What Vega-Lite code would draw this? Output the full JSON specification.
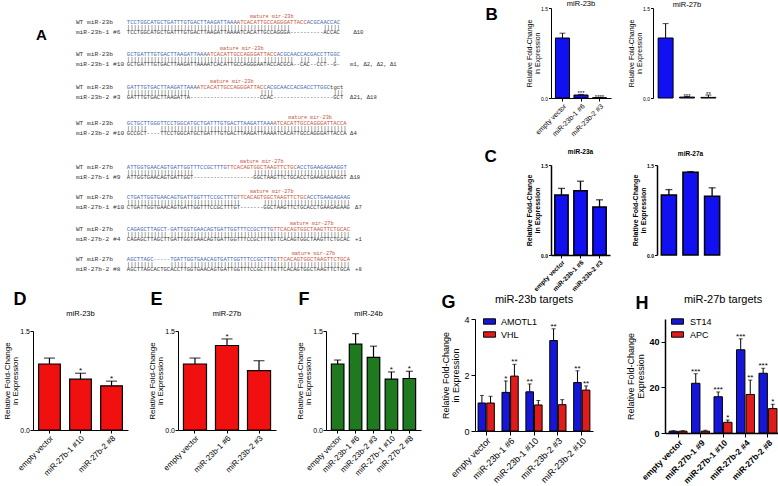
{
"$schema": "https://vega.github.io/schema/vega-lite/v6.json",
"padding": {"left": 3, "top": 0, "right": 2, "bottom": 0},
"background": "white",
"config": {
  "font": "Liberation Sans",
  "view": {"stroke": null},
  "axis": {"grid": false, "domainColor": "black", "tickColor": "black", "labelColor": "black", "titleColor": "black", "titleFontWeight": "normal", "domainWidth": 1, "tickWidth": 1},
  "title": {"color": "black", "fontWeight": "normal", "baseline": "alphabetic", "frame": "group", "anchor": "middle"},
  "legend": {"labelColor": "black"}
},
"datasets": {
  "seq": [
    {"r": 6.06, "c": -27.3, "t": "A", "k": "panel"},
    {"r": 2.52, "c": 43.5, "t": "mature mir-23b", "k": "mlab"},
    {"r": 3.58, "c": -15.3, "t": "WT miR-23b", "k": "label"},
    {"r": 3.58, "c": 0, "t": "TCCTGGCATGCTGATTTGTGACTTAAGATTAAA", "k": "flank"},
    {"r": 3.58, "c": 33, "t": "ATCACATTGCCAGGGATTACC", "k": "mature"},
    {"r": 3.58, "c": 54, "t": "ACGCAACCAC", "k": "flank"},
    {"r": 4.48, "c": 0, "t": "|||||||||||||||||||||||||||||||||||||||||||||||||", "k": "match"},
    {"r": 4.48, "c": 59, "t": "|||||", "k": "match"},
    {"r": 5.51, "c": -15.3, "t": "miR-23b-1 #6", "k": "label"},
    {"r": 5.51, "c": 0, "t": "TCCTGGCATGCTGATTTGTGACTTAAGATTAAAATCACATTGCCAGGGA----------ACCAC", "k": "mut"},
    {"r": 5.51, "c": 68, "t": "Δ10", "k": "note"},

    {"r": 8.49, "c": 34.5, "t": "mature mir-23b", "k": "mlab"},
    {"r": 9.55, "c": -15.3, "t": "WT miR-23b", "k": "label"},
    {"r": 9.55, "c": 0, "t": "GCTGATTTGTGACTTAAGATTAAA", "k": "flank"},
    {"r": 9.55, "c": 24, "t": "ATCACATTGCCAGGGATTACC", "k": "mature"},
    {"r": 9.55, "c": 45, "t": "ACGCAACCACGACCTTGGC", "k": "flank"},
    {"r": 10.45, "c": 0, "t": "||||||||||||||||||||||||||||||||||||||||", "k": "match"},
    {"r": 10.45, "c": 41, "t": "|||||||||", "k": "match"},
    {"r": 10.45, "c": 52, "t": "|||", "k": "match"},
    {"r": 10.45, "c": 57, "t": "|||", "k": "match"},
    {"r": 10.45, "c": 62, "t": "|", "k": "match"},
    {"r": 11.48, "c": -15.3, "t": "miR-23b-1 #10", "k": "label"},
    {"r": 11.48, "c": 0, "t": "GCTGATTTGTGACTTAAGATTAAAATCACATTGCCAGGGAATACCACGCA--CAC--CCT--G-", "k": "mut"},
    {"r": 11.48, "c": 67, "t": "m1, Δ2, Δ2, Δ1", "k": "note"},

    {"r": 14.65, "c": 31.5, "t": "mature mir-23b", "k": "mlab"},
    {"r": 15.71, "c": -15.3, "t": "WT miR-23b", "k": "label"},
    {"r": 15.71, "c": 0, "t": "GATTTGTGACTTAAGATTAAA", "k": "flank"},
    {"r": 15.71, "c": 21, "t": "ATCACATTGCCAGGGATTACC", "k": "mature"},
    {"r": 15.71, "c": 42, "t": "ACGCAACCACGACCTTGGC", "k": "flank"},
    {"r": 15.71, "c": 61, "t": "tgct", "k": "mut"},
    {"r": 16.61, "c": 0, "t": "|||||||||||||||||||", "k": "match"},
    {"r": 16.61, "c": 40, "t": "||||", "k": "match"},
    {"r": 16.61, "c": 62, "t": "|||", "k": "match"},
    {"r": 17.64, "c": -15.3, "t": "miR-23b-2 #3", "k": "label"},
    {"r": 17.64, "c": 0, "t": "GATTTGTGACTTAAGATTA---------------------CCAC------------------GCT", "k": "mut"},
    {"r": 17.64, "c": 67, "t": "Δ21, Δ18", "k": "note"},

    {"r": 21.36, "c": 55, "t": "mature mir-23b", "k": "mlab"},
    {"r": 22.42, "c": -15.3, "t": "WT miR-23b", "k": "label"},
    {"r": 22.42, "c": 0, "t": "GCTGCTTGGGTTCCTGGCATGCTGATTTGTGACTTAAGATTAAA", "k": "flank"},
    {"r": 22.42, "c": 44, "t": "ATCACATTGCCAGGGATTACCA", "k": "mature"},
    {"r": 23.32, "c": 0, "t": "||||||", "k": "match"},
    {"r": 23.32, "c": 10, "t": "||||||||||||||||||||||||||||||||||||||||||||||||||||||||", "k": "match"},
    {"r": 24.35, "c": -15.3, "t": "miR-23b-2 #10", "k": "label"},
    {"r": 24.35, "c": 0, "t": "GCCGCT----TTCCTGGCATGCTGATTTGTGACTTAAGATTAAAATCACATTGCCAGGGATTACCA", "k": "mut"},
    {"r": 24.35, "c": 67, "t": "Δ4", "k": "note"},

    {"r": 29.57, "c": 40.5, "t": "mature mir-27b", "k": "mlab"},
    {"r": 30.63, "c": -15.3, "t": "WT miR-27b", "k": "label"},
    {"r": 30.63, "c": 0, "t": "ATTGGTGAACAGTGATTGGTTTCCGCTTTG", "k": "flank"},
    {"r": 30.63, "c": 30, "t": "TTCACAGTGGCTAAGTTCTGC", "k": "mature"},
    {"r": 30.63, "c": 51, "t": "ACCTGAAGAGAAGGT", "k": "flank"},
    {"r": 31.53, "c": 0, "t": "||||||||||||||||||||", "k": "match"},
    {"r": 31.53, "c": 38, "t": "||||||||||||||||||||||||||||", "k": "match"},
    {"r": 32.56, "c": -15.3, "t": "miR-27b-1 #9", "k": "label"},
    {"r": 32.56, "c": 0, "t": "ATTGGTGAACAGTGATTGGT------------------GGCTAAGTTCTGCACCTGAAGAGAAGGT", "k": "mut"},
    {"r": 32.56, "c": 67, "t": "Δ18", "k": "note"},

    {"r": 35.17, "c": 43.5, "t": "mature mir-27b", "k": "mlab"},
    {"r": 36.23, "c": -15.3, "t": "WT miR-27b", "k": "label"},
    {"r": 36.23, "c": 0, "t": "CTGATTGGTGAACAGTGATTGGTTTCCGCTTTG", "k": "flank"},
    {"r": 36.23, "c": 33, "t": "TTCACAGTGGCTAAGTTCTGC", "k": "mature"},
    {"r": 36.23, "c": 54, "t": "ACCTGAAGAGAAG", "k": "flank"},
    {"r": 37.13, "c": 0, "t": "||||||||||||||||||||||||||||||||||", "k": "match"},
    {"r": 37.13, "c": 41, "t": "||||||||||||||||||||||||||", "k": "match"},
    {"r": 38.16, "c": -15.3, "t": "miR-27b-1 #10", "k": "label"},
    {"r": 38.16, "c": 0, "t": "CTGATTGGTGAACAGTGATTGGTTTCCGCTTTGT-------GGCTAAGTTCTGCACCTGAAGAGAAG", "k": "mut"},
    {"r": 38.16, "c": 68.5, "t": "Δ7", "k": "note"},

    {"r": 41.14, "c": 55.5, "t": "mature mir-27b", "k": "mlab"},
    {"r": 42.2, "c": -15.3, "t": "WT miR-27b", "k": "label"},
    {"r": 42.2, "c": 0, "t": "CAGAGCTTAGCT-GATTGGTGAACAGTGATTGGTTTCCGCTTTG", "k": "flank"},
    {"r": 42.2, "c": 44, "t": "TTCACAGTGGCTAAGTTCTGCAC", "k": "mature"},
    {"r": 43.1, "c": 0, "t": "||||||||||||", "k": "match"},
    {"r": 43.1, "c": 13, "t": "||||||||||||||||||||||||||||||||||||||||||||||||||||||", "k": "match"},
    {"r": 44.13, "c": -15.3, "t": "miR-27b-2 #4", "k": "label"},
    {"r": 44.13, "c": 0, "t": "CAGAGCTTAGCTTGATTGGTGAACAGTGATTGGTTTCCGCTTTGTTCACAGTGGCTAAGTTCTGCAC", "k": "mut"},
    {"r": 44.13, "c": 68.5, "t": "+1", "k": "note"},

    {"r": 46.74, "c": 56, "t": "mature mir-27b", "k": "mlab"},
    {"r": 47.8, "c": -15.3, "t": "WT miR-27b", "k": "label"},
    {"r": 47.8, "c": 0, "t": "AGCTTAGC-----TGATTGGTGAACAGTGATTGGTTTCCGCTTTG", "k": "flank"},
    {"r": 47.8, "c": 45, "t": "TTCACAGTGGCTAAGTTCTGCA", "k": "mature"},
    {"r": 48.7, "c": 0, "t": "||||||||", "k": "match"},
    {"r": 48.7, "c": 13, "t": "|||||", "k": "match"},
    {"r": 48.7, "c": 19, "t": "||||||||||||||||||||||||||||||||||||||||||||||||", "k": "match"},
    {"r": 49.73, "c": -15.3, "t": "miR-27b-2 #8", "k": "label"},
    {"r": 49.73, "c": 0, "t": "AGCTTAGCACTGCACCTTGGTGAACAGTGATTGGTTTCCGCTTTGTTCACAGTGGCTAAGTTCTGCA", "k": "mut"},
    {"r": 49.73, "c": 68.5, "t": "+8", "k": "note"}
  ],
  "b1": [
    {"c": "empty vector", "v": 1.0, "e": 1.08, "s": ""},
    {"c": "miR-23b-1 #6", "v": 0.05, "e": 0.06, "s": "***"},
    {"c": "miR-23b-2 #3", "v": 0.004, "e": 0.006, "s": "****"}
  ],
  "b2": [
    {"c": "empty vector", "v": 1.0, "e": 1.24, "s": ""},
    {"c": "miR-27b-1 #10", "v": 0.015, "e": 0.025, "s": "***"},
    {"c": "miR-27b-2 #8", "v": 0.01, "e": 0.05, "s": "**"}
  ],
  "c1": [
    {"c": "empty vector", "v": 1.0, "e": 1.11, "s": ""},
    {"c": "miR-23b-1 #6", "v": 1.07, "e": 1.23, "s": ""},
    {"c": "miR-23b-2 #3", "v": 0.8, "e": 0.92, "s": ""}
  ],
  "c2": [
    {"c": "empty vector", "v": 1.0, "e": 1.09, "s": ""},
    {"c": "miR-27b -1 #10", "v": 1.38, "e": 1.39, "s": ""},
    {"c": "miR-27b-2 #8", "v": 0.98, "e": 1.12, "s": ""}
  ],
  "d": [
    {"c": "empty vector", "v": 1.0, "e": 1.09, "s": ""},
    {"c": "miR-27b-1 #10", "v": 0.77, "e": 0.86, "s": "*"},
    {"c": "miR-27b-2 #8", "v": 0.67, "e": 0.74, "s": "*"}
  ],
  "e": [
    {"c": "empty vector", "v": 1.0, "e": 1.09, "s": ""},
    {"c": "miR-23b-1 #6", "v": 1.28, "e": 1.38, "s": "*"},
    {"c": "miR-23b-2 #3", "v": 0.9, "e": 1.05, "s": ""}
  ],
  "f": [
    {"c": "empty vector", "v": 1.0, "e": 1.06, "s": ""},
    {"c": "miR-23b-1 #6", "v": 1.3, "e": 1.46, "s": ""},
    {"c": "miR-23b-2 #3", "v": 1.1, "e": 1.27, "s": ""},
    {"c": "miR-27b-1 #10", "v": 0.77, "e": 0.88, "s": "*"},
    {"c": "miR-27b-2 #8", "v": 0.78, "e": 0.89, "s": "*"}
  ],
  "g": [
    {"c": "empty vector", "g": "AMOTL1", "v": 1.0, "e": 1.27, "s": ""},
    {"c": "miR-23b-1 #6", "g": "AMOTL1", "v": 1.38, "e": 1.79, "s": "*"},
    {"c": "miR-23b-1 #10", "g": "AMOTL1", "v": 1.4, "e": 1.68, "s": "**"},
    {"c": "miR-23b-2 #3", "g": "AMOTL1", "v": 3.23, "e": 3.65, "s": "**"},
    {"c": "miR-23b-2 #10", "g": "AMOTL1", "v": 1.73, "e": 2.15, "s": "**"},
    {"c": "empty vector", "g": "VHL", "v": 1.0, "e": 1.24, "s": ""},
    {"c": "miR-23b-1 #6", "g": "VHL", "v": 1.96, "e": 2.38, "s": "**"},
    {"c": "miR-23b-1 #10", "g": "VHL", "v": 0.93, "e": 1.09, "s": ""},
    {"c": "miR-23b-2 #3", "g": "VHL", "v": 0.94, "e": 1.12, "s": ""},
    {"c": "miR-23b-2 #10", "g": "VHL", "v": 1.46, "e": 1.61, "s": "**"}
  ],
  "h": [
    {"c": "empty vector", "g": "ST14", "v": 0.8, "e": 1.0, "s": ""},
    {"c": "miR-27b-1 #9", "g": "ST14", "v": 21.8, "e": 26.0, "s": "***"},
    {"c": "miR-27b-1 #10", "g": "ST14", "v": 15.9, "e": 18.0, "s": "***"},
    {"c": "miR-27b-2 #4", "g": "ST14", "v": 36.5, "e": 41.3, "s": "***"},
    {"c": "miR-27b-2 #8", "g": "ST14", "v": 26.2, "e": 28.4, "s": "***"},
    {"c": "empty vector", "g": "APC", "v": 0.8, "e": 1.0, "s": ""},
    {"c": "miR-27b-1 #9", "g": "APC", "v": 0.8, "e": 1.2, "s": ""},
    {"c": "miR-27b-1 #10", "g": "APC", "v": 4.7, "e": 5.7, "s": "*"},
    {"c": "miR-27b-2 #4", "g": "APC", "v": 16.9, "e": 23.2, "s": "**"},
    {"c": "miR-27b-2 #8", "g": "APC", "v": 10.7, "e": 12.6, "s": "*"}
  ],
  "none": []
},
"resolve": {"scale": {"color": "independent", "xOffset": "independent"}, "legend": {"color": "independent"}},
"spacing": -3,
"vconcat": [
  {
    "spacing": 83,
    "hconcat": [
      {
        "width": 368, "height": 276,
        "data": {"name": "seq"},
        "encoding": {
          "x": {"field": "c", "type": "quantitative", "scale": {"domain": [-28.17, 82.28], "nice": false, "zero": false}, "axis": null},
          "y": {"field": "r", "type": "quantitative", "scale": {"domain": [1.01, 52.5], "nice": false, "zero": false, "reverse": true}, "axis": null},
          "text": {"field": "t"}
        },
        "layer": [
          {"transform": [{"filter": "datum.k === 'flank'"}], "mark": {"type": "text", "align": "left", "baseline": "middle", "font": "Liberation Mono", "fontSize": 5.55, "color": "#4466ab"}},
          {"transform": [{"filter": "datum.k === 'mature'"}], "mark": {"type": "text", "align": "left", "baseline": "middle", "font": "Liberation Mono", "fontSize": 5.55, "color": "#c4533c"}},
          {"transform": [{"filter": "datum.k === 'mut' || datum.k === 'match' || datum.k === 'note'"}], "mark": {"type": "text", "align": "left", "baseline": "middle", "font": "Liberation Mono", "fontSize": 5.55, "color": "#333333"}},
          {"transform": [{"filter": "datum.k === 'label'"}], "mark": {"type": "text", "align": "left", "baseline": "middle", "font": "Liberation Mono", "fontSize": 6.2, "color": "#333333"}},
          {"transform": [{"filter": "datum.k === 'mlab'"}], "mark": {"type": "text", "align": "center", "baseline": "middle", "font": "Liberation Mono", "fontSize": 5.2, "color": "#c4533c"}},
          {"transform": [{"filter": "datum.k === 'panel'"}], "mark": {"type": "text", "align": "left", "baseline": "middle", "font": "Liberation Sans", "fontSize": 15, "fontWeight": "bold", "color": "black"}}
        ]
      },
      {
        "spacing": 10,
        "vconcat": [
          {
            "spacing": 16,
            "hconcat": [
              {
                "width": 60, "height": 90,
                "data": {"name": "b1"},
                "title": {"text": "miR-23b", "fontSize": 7.5, "offset": -2.5},
                "layer": [
                  {"mark": {"type": "bar", "fill": "#1010f0", "stroke": "black", "strokeWidth": 1},
                   "encoding": {
                     "x": {"field": "c", "type": "nominal", "sort": null, "scale": {"paddingInner": 0.24, "paddingOuter": 0.24}, "axis": {"title": null, "labelAngle": -45, "labelFontSize": 7, "tickSize": 3, "labelPadding": 1}},
                     "y": {"field": "v", "type": "quantitative", "scale": {"domain": [0, 1.5], "nice": false}, "axis": {"values": [0, 0.5, 1, 1.5], "format": ".1f", "labelFontSize": 5, "tickSize": 2.5, "labelPadding": 1, "title": ["Relative Fold-Change", "in Expression"], "titleFontSize": 7, "titleLineHeight": 8.5, "titlePadding": 0}}
                   }},
                  {"mark": {"type": "rule", "color": "black"},
                   "encoding": {
                     "x": {"field": "c", "type": "nominal", "sort": null, "axis": {"orient": "top", "domain": false, "ticks": false, "labels": false, "title": "B", "titleFontSize": 17, "titleFontWeight": "bold", "titleX": -66, "titleY": 11, "titleAlign": "left", "titleBaseline": "alphabetic", "titleAngle": 0}},
                     "y": {"field": "v", "type": "quantitative"},
                     "y2": {"field": "e"}
                   }},
                  {"mark": {"type": "tick", "color": "black", "thickness": 1, "size": 6},
                   "encoding": {"x": {"field": "c", "type": "nominal", "sort": null, "axis": null}, "y": {"field": "e", "type": "quantitative"}}},
                  {"mark": {"type": "text", "fontSize": 6, "baseline": "alphabetic", "dy": 1},
                   "encoding": {"x": {"field": "c", "type": "nominal", "sort": null, "axis": null}, "y": {"field": "e", "type": "quantitative"}, "text": {"field": "s"}}}
                ],
                "resolve": {"axis": {"x": "independent"}}
              },
              {
                "width": 68, "height": 90,
                "data": {"name": "b2"},
                "title": {"text": "miR-27b", "fontSize": 7.5, "offset": -2.5},
                "layer": [
                  {"mark": {"type": "bar", "fill": "#1010f0", "stroke": "black", "strokeWidth": 1},
                   "encoding": {
                     "x": {"field": "c", "type": "nominal", "sort": null, "scale": {"paddingInner": 0.3, "paddingOuter": 0.24}, "axis": {"title": null, "labelAngle": -45, "labelFontSize": 7, "tickSize": 3, "labelPadding": 1}},
                     "y": {"field": "v", "type": "quantitative", "scale": {"domain": [0, 1.5], "nice": false}, "axis": {"values": [0, 0.5, 1, 1.5], "format": ".1f", "labelFontSize": 5, "tickSize": 2.5, "labelPadding": 1, "title": ["Relative Fold-Change", "in Expression"], "titleFontSize": 7, "titleLineHeight": 8.5, "titlePadding": 0}}
                   }},
                  {"mark": {"type": "rule", "color": "black"},
                   "encoding": {"x": {"field": "c", "type": "nominal", "sort": null, "axis": null}, "y": {"field": "v", "type": "quantitative"}, "y2": {"field": "e"}}},
                  {"mark": {"type": "tick", "color": "black", "thickness": 1, "size": 6},
                   "encoding": {"x": {"field": "c", "type": "nominal", "sort": null, "axis": null}, "y": {"field": "e", "type": "quantitative"}}},
                  {"mark": {"type": "text", "fontSize": 6, "baseline": "alphabetic", "dy": 1},
                   "encoding": {"x": {"field": "c", "type": "nominal", "sort": null, "axis": null}, "y": {"field": "e", "type": "quantitative"}, "text": {"field": "s"}}}
                ]
              }
            ]
          },
          {
            "spacing": 21,
            "hconcat": [
              {
                "width": 59, "height": 90,
                "data": {"name": "c1"},
                "title": {"text": "miR-23a", "fontSize": 6.5, "fontWeight": "bold", "offset": -8},
                "layer": [
                  {"mark": {"type": "bar", "fill": "#1010f0", "stroke": "black", "strokeWidth": 1.5},
                   "encoding": {
                     "x": {"field": "c", "type": "nominal", "sort": null, "scale": {"paddingInner": 0.3, "paddingOuter": 0.2}, "axis": {"title": null, "labelAngle": -45, "labelFontSize": 6.5, "labelFontWeight": "bold", "tickSize": 3, "labelPadding": 1, "domainWidth": 1.5}},
                     "y": {"field": "v", "type": "quantitative", "scale": {"domain": [0, 1.5], "nice": false}, "axis": {"values": [0, 0.5, 1, 1.5], "format": ".1f", "labelFontSize": 5, "labelFontWeight": "bold", "tickSize": 2.5, "labelPadding": 1, "domainWidth": 1.5, "title": ["Relative Fold-Change", "in Expression"], "titleFontSize": 7, "titleFontWeight": "bold", "titleLineHeight": 8.5, "titlePadding": 0}}
                   }},
                  {"mark": {"type": "rule", "color": "black", "strokeWidth": 1.3},
                   "encoding": {
                     "x": {"field": "c", "type": "nominal", "sort": null, "axis": {"orient": "top", "domain": false, "ticks": false, "labels": false, "title": "C", "titleFontSize": 17, "titleFontWeight": "bold", "titleX": -67, "titleY": -4, "titleAlign": "left", "titleBaseline": "alphabetic", "titleAngle": 0}},
                     "y": {"field": "v", "type": "quantitative"},
                     "y2": {"field": "e"}
                   }},
                  {"mark": {"type": "tick", "color": "black", "thickness": 1.3, "size": 7},
                   "encoding": {"x": {"field": "c", "type": "nominal", "sort": null, "axis": null}, "y": {"field": "e", "type": "quantitative"}}}
                ],
                "resolve": {"axis": {"x": "independent"}}
              },
              {
                "width": 67, "height": 90,
                "data": {"name": "c2"},
                "title": {"text": "miR-27a", "fontSize": 6.5, "fontWeight": "bold", "offset": 6},
                "layer": [
                  {"mark": {"type": "bar", "fill": "#1010f0", "stroke": "black", "strokeWidth": 1.5},
                   "encoding": {
                     "x": {"field": "c", "type": "nominal", "sort": null, "scale": {"paddingInner": 0.3, "paddingOuter": 0.2}, "axis": {"title": null, "labelAngle": -45, "labelFontSize": 6.5, "labelFontWeight": "bold", "tickSize": 3, "labelPadding": 1, "domainWidth": 1.5}},
                     "y": {"field": "v", "type": "quantitative", "scale": {"domain": [0, 1.5], "nice": false}, "axis": {"values": [0, 0.5, 1, 1.5], "format": ".1f", "labelFontSize": 5, "labelFontWeight": "bold", "tickSize": 2.5, "labelPadding": 1, "domainWidth": 1.5, "title": ["Relative Fold-Change", "in Expression"], "titleFontSize": 7, "titleFontWeight": "bold", "titleLineHeight": 8.5, "titlePadding": 0}}
                   }},
                  {"mark": {"type": "rule", "color": "black", "strokeWidth": 1.3},
                   "encoding": {"x": {"field": "c", "type": "nominal", "sort": null, "axis": null}, "y": {"field": "v", "type": "quantitative"}, "y2": {"field": "e"}}},
                  {"mark": {"type": "tick", "color": "black", "thickness": 1.3, "size": 7},
                   "encoding": {"x": {"field": "c", "type": "nominal", "sort": null, "axis": null}, "y": {"field": "e", "type": "quantitative"}}}
                ]
              }
            ]
          }
        ]
      }
    ]
  },
  {
    "spacing": 20,
    "resolve": {"scale": {"color": "independent", "xOffset": "independent"}, "legend": {"color": "independent"}},
    "hconcat": [
      {
        "spacing": -30,
        "vconcat": [
          {"width": 1, "height": 1, "data": {"name": "none"}, "mark": {"type": "point", "opacity": 0}},
          {
            "spacing": 20,
            "hconcat": [
              {
                "width": 95, "height": 99,
                "data": {"name": "d"},
                "title": {"text": "miR-23b", "fontSize": 7.5, "offset": -27.2},
                "layer": [
                  {"mark": {"type": "bar", "fill": "#f01010", "stroke": "black", "strokeWidth": 1.2},
                   "encoding": {
                     "x": {"field": "c", "type": "nominal", "sort": null, "scale": {"paddingInner": 0.3, "paddingOuter": 0.18}, "axis": {"title": null, "labelAngle": -45, "labelFontSize": 8, "tickSize": 3, "labelPadding": 1}},
                     "y": {"field": "v", "type": "quantitative", "scale": {"domain": [0, 1.5], "nice": false}, "axis": {"values": [0, 0.5, 1, 1.5], "format": ".1f", "labelFontSize": 7, "tickSize": 3, "labelPadding": 0.5, "title": ["Relative Fold-Change", "in Expression"], "titleFontSize": 8, "titleLineHeight": 8, "titlePadding": 0}}
                   }},
                  {"mark": {"type": "rule", "color": "black", "strokeWidth": 1.2},
                   "encoding": {
                     "x": {"field": "c", "type": "nominal", "sort": null, "axis": {"orient": "top", "domain": false, "ticks": false, "labels": false, "title": "D", "titleFontSize": 18, "titleFontWeight": "bold", "titleX": -20, "titleY": -27, "titleAlign": "left", "titleBaseline": "alphabetic", "titleAngle": 0}},
                     "y": {"field": "v", "type": "quantitative"},
                     "y2": {"field": "e"}
                   }},
                  {"mark": {"type": "tick", "color": "black", "thickness": 1.2, "size": 11},
                   "encoding": {"x": {"field": "c", "type": "nominal", "sort": null, "axis": null}, "y": {"field": "e", "type": "quantitative"}}},
                  {"mark": {"type": "text", "fontSize": 8, "baseline": "alphabetic"},
                   "encoding": {"x": {"field": "c", "type": "nominal", "sort": null, "axis": null}, "y": {"field": "e", "type": "quantitative"}, "text": {"field": "s"}}}
                ],
                "resolve": {"axis": {"x": "independent"}}
              },
              {
                "width": 98, "height": 99,
                "data": {"name": "e"},
                "title": {"text": "miR-27b", "fontSize": 7.5, "offset": -27.2},
                "layer": [
                  {"mark": {"type": "bar", "fill": "#f01010", "stroke": "black", "strokeWidth": 1.2},
                   "encoding": {
                     "x": {"field": "c", "type": "nominal", "sort": null, "scale": {"paddingInner": 0.28, "paddingOuter": 0.17}, "axis": {"title": null, "labelAngle": -45, "labelFontSize": 8, "tickSize": 3, "labelPadding": 1}},
                     "y": {"field": "v", "type": "quantitative", "scale": {"domain": [0, 1.5], "nice": false}, "axis": {"values": [0, 0.5, 1, 1.5], "format": ".1f", "labelFontSize": 7, "tickSize": 3, "labelPadding": 0.5, "title": ["Relative Fold-Change", "in Expression"], "titleFontSize": 8, "titleLineHeight": 8, "titlePadding": 0}}
                   }},
                  {"mark": {"type": "rule", "color": "black", "strokeWidth": 1.2},
                   "encoding": {
                     "x": {"field": "c", "type": "nominal", "sort": null, "axis": {"orient": "top", "domain": false, "ticks": false, "labels": false, "title": "E", "titleFontSize": 18, "titleFontWeight": "bold", "titleX": -28, "titleY": -27, "titleAlign": "left", "titleBaseline": "alphabetic", "titleAngle": 0}},
                     "y": {"field": "v", "type": "quantitative"},
                     "y2": {"field": "e"}
                   }},
                  {"mark": {"type": "tick", "color": "black", "thickness": 1.2, "size": 11},
                   "encoding": {"x": {"field": "c", "type": "nominal", "sort": null, "axis": null}, "y": {"field": "e", "type": "quantitative"}}},
                  {"mark": {"type": "text", "fontSize": 8, "baseline": "alphabetic"},
                   "encoding": {"x": {"field": "c", "type": "nominal", "sort": null, "axis": null}, "y": {"field": "e", "type": "quantitative"}, "text": {"field": "s"}}}
                ],
                "resolve": {"axis": {"x": "independent"}}
              },
              {
                "width": 95, "height": 99,
                "data": {"name": "f"},
                "title": {"text": "miR-24b", "fontSize": 7.5, "offset": -27.2, "dx": -5},
                "layer": [
                  {"mark": {"type": "bar", "fill": "#1f7a1f", "stroke": "black", "strokeWidth": 1.2},
                   "encoding": {
                     "x": {"field": "c", "type": "nominal", "sort": null, "scale": {"paddingInner": 0.3, "paddingOuter": 0.3}, "axis": {"title": null, "labelAngle": -45, "labelFontSize": 8, "tickSize": 3, "labelPadding": 1}},
                     "y": {"field": "v", "type": "quantitative", "scale": {"domain": [0, 1.5], "nice": false}, "axis": {"values": [0, 0.5, 1, 1.5], "format": ".1f", "labelFontSize": 7, "tickSize": 3, "labelPadding": 0.5, "title": ["Relative Fold-Change", "in Expression"], "titleFontSize": 8, "titleLineHeight": 8, "titlePadding": 0}}
                   }},
                  {"mark": {"type": "rule", "color": "black", "strokeWidth": 1.2},
                   "encoding": {
                     "x": {"field": "c", "type": "nominal", "sort": null, "axis": {"orient": "top", "domain": false, "ticks": false, "labels": false, "title": "F", "titleFontSize": 18, "titleFontWeight": "bold", "titleX": -28, "titleY": -27, "titleAlign": "left", "titleBaseline": "alphabetic", "titleAngle": 0}},
                     "y": {"field": "v", "type": "quantitative"},
                     "y2": {"field": "e"}
                   }},
                  {"mark": {"type": "tick", "color": "black", "thickness": 1.2, "size": 7},
                   "encoding": {"x": {"field": "c", "type": "nominal", "sort": null, "axis": null}, "y": {"field": "e", "type": "quantitative"}}},
                  {"mark": {"type": "text", "fontSize": 8, "baseline": "alphabetic"},
                   "encoding": {"x": {"field": "c", "type": "nominal", "sort": null, "axis": null}, "y": {"field": "e", "type": "quantitative"}, "text": {"field": "s"}}}
                ],
                "resolve": {"axis": {"x": "independent"}}
              }
            ]
          }
        ]
      },
      {
        "spacing": 33,
        "resolve": {"scale": {"color": "independent", "xOffset": "independent"}, "legend": {"color": "independent"}},
        "hconcat": [
          {
            "width": 118, "height": 112,
            "data": {"name": "g"},
            "title": {"text": "miR-23b targets", "fontSize": 11, "offset": -12.2},
            "layer": [
              {"mark": {"type": "bar", "stroke": "black", "strokeWidth": 1},
               "encoding": {
                 "x": {"field": "c", "type": "nominal", "sort": null, "scale": {"paddingInner": 0.32, "paddingOuter": 0.13}, "axis": {"title": null, "labelAngle": -45, "labelFontSize": 9, "tickSize": 4, "labelPadding": 1}},
                 "xOffset": {"field": "g", "type": "nominal", "sort": null, "scale": {"paddingInner": 0.12}},
                 "y": {"field": "v", "type": "quantitative", "scale": {"domain": [0, 4], "nice": false}, "axis": {"values": [0, 1, 2, 3, 4], "format": "d", "labelFontSize": 9, "tickSize": 4, "labelPadding": 2, "title": ["Relative Fold-Change", "in Expression"], "titleFontSize": 9, "titleLineHeight": 10, "titlePadding": 3}},
                 "color": {"field": "g", "type": "nominal", "sort": null, "scale": {"domain": ["AMOTL1", "VHL"], "range": ["#1616d8", "#e01b1b"]},
                   "legend": {"orient": "none", "legendX": 8, "legendY": -4, "title": null, "symbolType": "M-1,-0.45H1V0.45H-1Z", "symbolSize": 144, "symbolStrokeColor": "black", "symbolStrokeWidth": 1, "symbolOpacity": 1, "labelFontSize": 9, "labelOffset": 5, "rowPadding": 1, "padding": 0}}
               }},
              {"mark": {"type": "rule", "color": "black"},
               "encoding": {
                 "x": {"field": "c", "type": "nominal", "sort": null, "axis": {"orient": "top", "domain": false, "ticks": false, "labels": false, "title": "G", "titleFontSize": 18, "titleFontWeight": "bold", "titleX": -34, "titleY": -12, "titleAlign": "left", "titleBaseline": "alphabetic", "titleAngle": 0}},
                 "xOffset": {"field": "g", "type": "nominal", "sort": null},
                 "y": {"field": "v", "type": "quantitative"},
                 "y2": {"field": "e"}
               }},
              {"mark": {"type": "tick", "color": "black", "thickness": 1, "size": 4},
               "encoding": {"x": {"field": "c", "type": "nominal", "sort": null, "axis": null}, "xOffset": {"field": "g", "type": "nominal", "sort": null}, "y": {"field": "e", "type": "quantitative"}}},
              {"mark": {"type": "text", "fontSize": 8, "baseline": "alphabetic"},
               "encoding": {"x": {"field": "c", "type": "nominal", "sort": null, "axis": null}, "xOffset": {"field": "g", "type": "nominal", "sort": null}, "y": {"field": "e", "type": "quantitative"}, "text": {"field": "s"}}}
            ],
            "resolve": {"axis": {"x": "independent"}}
          },
          {
            "width": 116, "height": 114,
            "data": {"name": "h"},
            "title": {"text": "miR-27b targets", "fontSize": 11, "offset": -11.2},
            "layer": [
              {"mark": {"type": "bar", "stroke": "black", "strokeWidth": 1},
               "encoding": {
                 "x": {"field": "c", "type": "nominal", "sort": null, "scale": {"paddingInner": 0.2, "paddingOuter": 0.18}, "axis": {"title": null, "labelAngle": -45, "labelFontSize": 8.5, "labelFontWeight": "bold", "tickSize": 4, "labelPadding": 1, "domainWidth": 1.5}},
                 "xOffset": {"field": "g", "type": "nominal", "sort": null, "scale": {"paddingInner": 0.12}},
                 "y": {"field": "v", "type": "quantitative", "scale": {"domain": [0, 50], "nice": false}, "axis": {"values": [0, 10, 20, 30, 40, 50], "format": "d", "labelFontSize": 9, "labelFontWeight": "bold", "tickSize": 4, "labelPadding": 2, "domainWidth": 1.5, "title": ["Relative Fold-Change", "Expression"], "titleFontSize": 9, "titleLineHeight": 10, "titlePadding": 3}},
                 "color": {"field": "g", "type": "nominal", "sort": null, "scale": {"domain": ["ST14", "APC"], "range": ["#1616d8", "#e01b1b"]},
                   "legend": {"orient": "none", "legendX": 6, "legendY": -4, "title": null, "symbolType": "M-1,-0.45H1V0.45H-1Z", "symbolSize": 144, "symbolStrokeColor": "black", "symbolStrokeWidth": 1, "symbolOpacity": 1, "labelFontSize": 9, "labelOffset": 6, "rowPadding": 1, "padding": 0}}
               }},
              {"mark": {"type": "rule", "color": "black"},
               "encoding": {
                 "x": {"field": "c", "type": "nominal", "sort": null, "axis": {"orient": "top", "domain": false, "ticks": false, "labels": false, "title": "H", "titleFontSize": 18, "titleFontWeight": "bold", "titleX": -30, "titleY": -11, "titleAlign": "left", "titleBaseline": "alphabetic", "titleAngle": 0}},
                 "xOffset": {"field": "g", "type": "nominal", "sort": null},
                 "y": {"field": "v", "type": "quantitative"},
                 "y2": {"field": "e"}
               }},
              {"mark": {"type": "tick", "color": "black", "thickness": 1, "size": 4},
               "encoding": {"x": {"field": "c", "type": "nominal", "sort": null, "axis": null}, "xOffset": {"field": "g", "type": "nominal", "sort": null}, "y": {"field": "e", "type": "quantitative"}}},
              {"mark": {"type": "text", "fontSize": 8, "baseline": "alphabetic"},
               "encoding": {"x": {"field": "c", "type": "nominal", "sort": null, "axis": null}, "xOffset": {"field": "g", "type": "nominal", "sort": null}, "y": {"field": "e", "type": "quantitative"}, "text": {"field": "s"}}}
            ],
            "resolve": {"axis": {"x": "independent"}}
          }
        ]
      }
    ]
  }
]
}
